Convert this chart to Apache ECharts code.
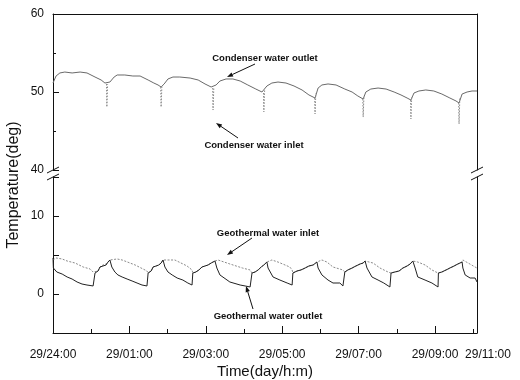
<!DOCTYPE html>
<html>
<head>
<meta charset="utf-8">
<script src="https://cdn.jsdelivr.net/npm/echarts@6/dist/echarts.min.js"></script>
<style>
  html, body { margin: 0; padding: 0; background: #fff; }
  #chart { width: 520px; height: 380px; }
</style>
</head>
<body>
<div id="chart"></div>
<script>
// time in hours from 29/24:00, temperature in deg
const xTickLabels = ['29/24:00', '29/01:00', '29/03:00', '29/05:00', '29/07:00', '29/09:00', '29/11:00']
const upperTicks = [40, 50, 60]
const lowerTicks = [0, 10]
const xMax = 11.1

const condOutlet = [
  [0, 51.15], [0.08, 52.05], [0.18, 52.44], [0.31, 52.56], [0.50, 52.44], [0.71, 52.56], [0.89, 52.44], [1.10, 51.92], [1.26, 51.54], [1.36, 51.15], [1.41, 51.03],
  [1.49, 51.28], [1.60, 51.92], [1.68, 52.18], [1.88, 52.18], [2.09, 52.05], [2.28, 52.05], [2.49, 51.54], [2.64, 51.15], [2.75, 50.90], [2.83, 50.64],
  [2.91, 51.03], [3.01, 51.67], [3.14, 51.92], [3.32, 51.92], [3.59, 51.79], [3.80, 51.54], [3.98, 51.03], [4.14, 50.64], [4.19, 50.51],
  [4.27, 50.90], [4.37, 51.41], [4.53, 51.67], [4.71, 51.67], [4.90, 51.41], [5.10, 50.90], [5.31, 50.38], [5.47, 50.00], [5.52, 49.87],
  [5.60, 50.77], [5.73, 51.15], [5.89, 51.28], [6.10, 51.15], [6.31, 50.77], [6.52, 50.26], [6.70, 49.62], [6.86, 49.23],
  [6.94, 50.51], [7.04, 50.90], [7.20, 51.03], [7.41, 50.90], [7.64, 50.38], [7.83, 50.00], [7.98, 49.49], [8.12, 49.10],
  [8.19, 50.00], [8.32, 50.38], [8.51, 50.51], [8.72, 50.38], [8.93, 50.00], [9.11, 49.62], [9.27, 49.23], [9.37, 48.97],
  [9.45, 49.87], [9.58, 50.13], [9.76, 50.26], [9.97, 50.13], [10.18, 49.74], [10.39, 49.23], [10.55, 48.85], [10.63, 48.59],
  [10.71, 49.74], [10.84, 50.00], [10.97, 50.13], [11.10, 50.13]
]

const condInlet = [
  [1.40, 51.03], [1.41, 48.08], [1.43, 51.00], [1.44, null],
  [2.82, 50.64], [2.83, 48.08], [2.85, 50.70], [2.86, null],
  [4.18, 50.51], [4.19, 47.69], [4.21, 50.60], [4.22, null],
  [5.51, 49.87], [5.52, 47.44], [5.54, 50.20], [5.55, null],
  [6.85, 49.23], [6.86, 47.18], [6.88, 49.80], [6.89, null],
  [8.11, 49.10], [8.12, 46.79], [8.14, 49.50], [8.15, null],
  [9.36, 48.97], [9.37, 46.54], [9.39, 49.30], [9.40, null],
  [10.62, 48.59], [10.63, 45.90], [10.65, 49.20]
]

const geoInlet = [
  [0, 4.36], [0.08, 4.62], [0.24, 4.49], [0.37, 4.23], [0.58, 3.97], [0.79, 3.46], [0.97, 3.21], [1.05, 2.82], [1.10, 2.69],
  [1.18, 2.95], [1.23, 3.46], [1.31, 3.72], [1.39, 3.85], [1.44, 4.10], [1.49, 4.36],
  [1.68, 4.49], [1.81, 4.36], [2.15, 3.72], [2.46, 2.95], [2.49, 2.69],
  [2.57, 2.95], [2.62, 3.46], [2.70, 3.59], [2.77, 3.72], [2.83, 3.97], [2.88, 4.36],
  [3.19, 4.36], [3.51, 3.59], [3.64, 3.08], [3.66, 2.69],
  [3.74, 2.82], [3.82, 3.08], [3.90, 3.46], [3.98, 3.59], [4.06, 3.72], [4.14, 3.97], [4.19, 4.10], [4.24, 4.23],
  [4.32, 4.36], [4.63, 3.85], [4.96, 3.33], [5.16, 3.08], [5.21, 2.69],
  [5.29, 2.82], [5.37, 3.08], [5.45, 3.46], [5.52, 3.72], [5.60, 4.10],
  [5.73, 4.36], [5.89, 4.10], [6.20, 3.46], [6.26, 3.08], [6.28, 2.69],
  [6.39, 2.95], [6.49, 3.08], [6.60, 3.33], [6.70, 3.59], [6.81, 3.72], [6.91, 4.10],
  [7.04, 4.36], [7.17, 4.10], [7.33, 3.46], [7.59, 3.08], [7.64, 2.82],
  [7.72, 3.08], [7.83, 3.33], [7.93, 3.59], [8.04, 3.85], [8.12, 3.97], [8.17, 4.23],
  [8.22, 4.23], [8.38, 3.97], [8.56, 3.33], [8.77, 2.82], [8.85, 2.69],
  [8.95, 2.82], [9.06, 2.95], [9.16, 3.33], [9.27, 3.59], [9.35, 3.85], [9.42, 4.23],
  [9.55, 4.10], [9.74, 3.72], [9.92, 3.08], [10.08, 2.69],
  [10.18, 2.82], [10.29, 3.08], [10.39, 3.33], [10.50, 3.59], [10.60, 3.85], [10.71, 4.10],
  [10.73, 4.36], [11.05, 3.46], [11.10, 3.33]
]

const geoOutlet = [
  [0, 4.62], [0.01, 3.33], [0.10, 2.82], [0.24, 2.56], [0.37, 2.18], [0.50, 1.92], [0.63, 1.54], [0.76, 1.28], [0.89, 1.15], [1.05, 1.03],
  [1.10, 2.69], [1.18, 2.95], [1.21, 3.20], [1.23, 3.46], [1.31, 3.59], [1.39, 3.72], [1.44, 4.10], [1.49, 4.36],
  [1.54, 3.46], [1.62, 2.82], [1.70, 2.44], [1.81, 2.18], [1.94, 1.92], [2.07, 1.67], [2.20, 1.41], [2.33, 1.15], [2.46, 1.03],
  [2.49, 2.69], [2.57, 2.95], [2.62, 3.46], [2.70, 3.59], [2.77, 3.72], [2.83, 3.97], [2.88, 4.36],
  [2.93, 3.46], [3.01, 2.82], [3.12, 2.44], [3.25, 2.05], [3.40, 1.79], [3.53, 1.41], [3.64, 1.15],
  [3.66, 2.69], [3.74, 2.82], [3.82, 3.08], [3.90, 3.46], [3.98, 3.59], [4.06, 3.72], [4.14, 3.97], [4.19, 4.10], [4.24, 4.23],
  [4.29, 3.33], [4.37, 2.44], [4.63, 1.54], [4.90, 1.15], [5.03, 1.03], [5.16, 0.90],
  [5.21, 2.69], [5.29, 2.82], [5.37, 3.08], [5.45, 3.46], [5.52, 3.72], [5.60, 4.10],
  [5.63, 3.33], [5.76, 2.18], [5.94, 1.79], [6.13, 1.41], [6.26, 1.15],
  [6.28, 2.69], [6.39, 2.95], [6.49, 3.08], [6.60, 3.33], [6.70, 3.59], [6.81, 3.72], [6.91, 4.10],
  [6.94, 3.33], [7.04, 2.44], [7.20, 1.79], [7.33, 1.41], [7.51, 1.41], [7.59, 1.03],
  [7.64, 2.82], [7.72, 3.08], [7.83, 3.33], [7.93, 3.59], [8.04, 3.85], [8.12, 3.97], [8.17, 4.23],
  [8.22, 3.33], [8.35, 2.18], [8.51, 1.79], [8.66, 1.41], [8.82, 0.90],
  [8.85, 2.69], [8.95, 2.82], [9.06, 2.95], [9.16, 3.33], [9.27, 3.59], [9.35, 3.85], [9.42, 4.23],
  [9.48, 3.33], [9.55, 2.18], [9.74, 1.79], [9.92, 1.41], [10.08, 0.90],
  [10.09, 2.69], [10.18, 2.82], [10.29, 3.08], [10.39, 3.33], [10.50, 3.59], [10.60, 3.85], [10.71, 4.10],
  [10.73, 3.33], [10.79, 2.44], [10.92, 2.05], [11.05, 2.05], [11.10, 1.54]
]

const chart = echarts.init(document.getElementById('chart'))
const font = "'Liberation Sans', Arial, sans-serif"
const black = '#111'

function arrow(x1, y1, x2, y2) {
  const a = Math.atan2(y2 - y1, x2 - x1), L = 6, W = 2.2
  const bx = x2 - L * Math.cos(a), by = y2 - L * Math.sin(a)
  const nx = -Math.sin(a) * W, ny = Math.cos(a) * W
  return [
    { type: 'line', silent: true, shape: { x1, y1, x2: bx, y2: by }, style: { stroke: black, lineWidth: 1 } },
    { type: 'polygon', silent: true, shape: { points: [[x2, y2], [bx + nx, by + ny], [bx - nx, by - ny]] }, style: { fill: black } }
  ]
}
function label(text, x, y) {
  return { type: 'text', silent: true, x, y, style: { text, font: 'bold 9.5px ' + font, fill: black, textAlign: 'center', textVerticalAlign: 'middle' } }
}
function brk(x, y) {
  return [
    { type: 'line', silent: true, shape: { x1: x - 6, y1: y + 3, x2: x + 6, y2: y - 3 }, style: { stroke: black, lineWidth: 1 } },
    { type: 'line', silent: true, shape: { x1: x - 6, y1: y + 10, x2: x + 6, y2: y + 4 }, style: { stroke: black, lineWidth: 1 } }
  ]
}

const axisLine = { show: true, onZero: false, lineStyle: { color: black, width: 1 } }
const yLeft = (grid, min, max, interval, ticks) => ({
  type: 'value', gridIndex: grid, min, max, interval,
  axisLine, splitLine: { show: false },
  axisTick: { show: true, inside: true, length: 6, lineStyle: { color: black } },
  minorTick: { show: grid === 0, splitNumber: 2, length: 3, lineStyle: { color: black } },
  axisLabel: {
    margin: 9, color: black, fontSize: 12, fontFamily: font,
    formatter: v => ticks.indexOf(v) >= 0 ? String(v) : ''
  }
})
const yRight = (grid, min, max) => ({
  type: 'value', gridIndex: grid, min, max, position: 'right',
  axisLine, axisTick: { show: false }, axisLabel: { show: false }, splitLine: { show: false }
})

const option = {
  animation: false,
  backgroundColor: '#fff',
  grid: [
    { left: 53, top: 14, width: 424, height: 156 },
    { left: 53, top: 177, width: 424, height: 156 }
  ],
  xAxis: [{
    type: 'value', gridIndex: 0, position: 'top', min: 0, max: xMax,
    axisLine, axisTick: { show: false }, axisLabel: { show: false }, splitLine: { show: false }
  }, {
    type: 'value', gridIndex: 1, position: 'bottom', min: 0, max: xMax, interval: 2,
    axisLine, splitLine: { show: false },
    axisTick: { show: true, inside: true, length: 7, lineStyle: { color: black } },
    minorTick: { show: true, splitNumber: 2, length: 4, lineStyle: { color: black } },
    axisLabel: {
      margin: 16, color: black, fontSize: 12, fontFamily: font, showMaxLabel: true, showMinLabel: true,
      formatter: v => {
        if (v >= xMax - 1e-6) return '{end|' + xTickLabels[xTickLabels.length - 1] + '}'
        return v % 2 === 0 ? xTickLabels[v / 2] : ''
      },
      rich: { end: { padding: [0, 0, 0, 22], fontSize: 12, fontFamily: font, color: black } }
    },
    name: 'Time(day/h:m)', nameLocation: 'middle', nameGap: 31,
    nameTextStyle: { color: black, fontSize: 15, fontFamily: font }
  }],
  yAxis: [
    yLeft(0, 40, 60, 10, upperTicks),
    yRight(0, 40, 60),
    yLeft(1, -5, 15, 5, lowerTicks),
    yRight(1, -5, 15)
  ],
  series: [
    { name: 'Condenser water outlet', type: 'line', xAxisIndex: 0, yAxisIndex: 0, symbol: 'none',
      lineStyle: { color: '#6a6a6a', width: 1 }, data: condOutlet },
    { name: 'Condenser water inlet', type: 'line', xAxisIndex: 0, yAxisIndex: 0, symbol: 'none', connectNulls: false,
      lineStyle: { color: '#8a8a8a', width: 1, type: [1.5, 1.5] }, data: condInlet },
    { name: 'Geothermal water inlet', type: 'line', xAxisIndex: 1, yAxisIndex: 2, symbol: 'none',
      lineStyle: { color: '#8a8a8a', width: 1, type: [2, 1.5] }, data: geoInlet },
    { name: 'Geothermal water outlet', type: 'line', xAxisIndex: 1, yAxisIndex: 2, symbol: 'none',
      lineStyle: { color: '#222', width: 1 }, data: geoOutlet }
  ],
  graphic: [
    { type: 'text', silent: true, x: 14, y: 185, rotation: Math.PI / 2,
      style: { text: 'Temperature(deg)', font: '16px ' + font, fill: black, textAlign: 'center', textVerticalAlign: 'middle' } },
    ...brk(53, 170), ...brk(477, 170),
    label('Condenser water outlet', 265, 58), ...arrow(255, 64, 227, 77),
    label('Condenser water inlet', 254, 145), ...arrow(238, 138, 216, 123),
    label('Geothermal water inlet', 268, 233), ...arrow(252, 238, 227, 255),
    label('Geothermal water outlet', 268, 316), ...arrow(253, 309, 246, 286)
  ]
}

chart.setOption(option)
</script>
</body>
</html>
